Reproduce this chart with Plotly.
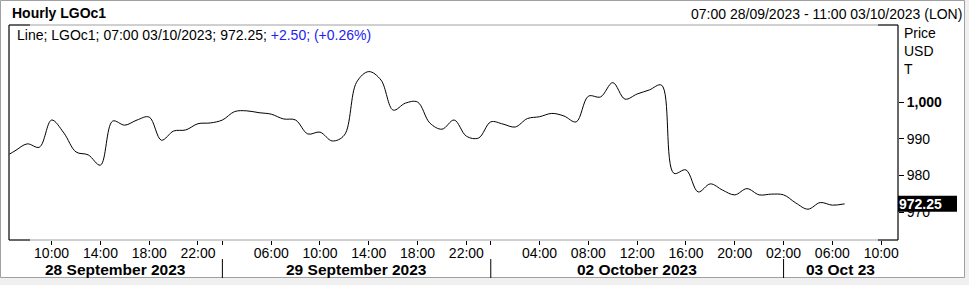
import plotly.graph_objects as go

# ---------------- data ----------------
day_names = ["28 September 2023", "29 September 2023", "02 October 2023", "03 Oct 23"]
sep28_hours = ["06:00", "07:00", "08:00", "09:00", "10:00", "11:00", "12:00", "13:00", "14:00",
               "15:00", "16:00", "17:00", "18:00", "19:00", "20:00", "21:00", "22:00", "23:00"]
sep29_hours = ["02:00", "03:00", "04:00", "05:00", "06:00", "07:00", "08:00", "09:00", "10:00",
               "11:00", "12:00", "13:00", "14:00", "15:00", "16:00", "17:00", "18:00", "19:00",
               "20:00", "21:00", "22:00", "23:00"]
oct02_hours = ["00:00", "01:00", "02:00", "03:00", "04:00", "05:00", "06:00", "07:00", "08:00",
               "09:00", "10:00", "11:00", "12:00", "13:00", "14:00", "15:00", "16:00", "17:00",
               "18:00", "19:00", "20:00", "21:00", "22:00", "23:00"]
oct03_hours = ["02:00", "03:00", "04:00", "05:00", "06:00", "07:00", "08:00", "09:00", "10:00", "11:00"]

prices = [
    # 28 Sep 06:00 - 23:00
    984.7, 986.7, 988.6, 987.7, 995.1, 991.6, 986.4, 985.6, 982.8, 994.8,
    993.7, 995.1, 995.9, 989.6, 992.1, 992.4, 994.1, 994.3,
    # 29 Sep 02:00 - 23:00
    995.1, 997.4, 997.6, 997.1, 996.7, 995.4, 995.1, 991.3, 991.8, 989.4,
    991.0, 1005.4, 1008.3, 1006.0, 997.8, 999.7, 1000.0, 994.3, 992.6, 995.1,
    990.7, 990.2,
    # 02 Oct 00:00 - 23:00
    994.6, 994.0, 993.2, 995.5, 996.0, 996.9, 996.2, 994.6, 1001.6, 1001.4,
    1005.3, 1000.8, 1002.2, 1003.3, 1004.6, 980.6, 981.5, 975.5, 977.7, 976.0,
    974.7, 976.4, 974.7, 974.9,
    # 03 Oct 02:00 - 07:00
    974.7, 972.5, 970.8, 972.6, 971.9, 972.25,
]

tick_hours = {
    0: ["10:00", "14:00", "18:00", "22:00"],
    1: ["02:00", "06:00", "10:00", "14:00", "18:00", "22:00"],
    2: ["00:00", "04:00", "08:00", "12:00", "16:00", "20:00"],
    3: ["02:00", "06:00", "10:00"],
}
hidden_ticks = [(1, "02:00"), (2, "00:00")]

y_tickvals = [970, 980, 990, 1000]
y_ticktext = ["970", "980", "990", "<b>1,000</b>"]

last_label = "972.25"
legend_text = ("Line; LGOc1; 07:00 03/10/2023; 972.25; "
               "<span style='color:#2323f0'>+2.50; (+0.26%)</span>")
title_text = "<b>Hourly LGOc1</b>"
range_text = "07:00 28/09/2023 - 11:00 03/10/2023 (LON)"

# ---------------- build slots ----------------
days_hours = [sep28_hours, sep29_hours, oct02_hours, oct03_hours]
slots = []
day_start = []
for d, hrs in enumerate(days_hours):
    day_start.append(len(slots))
    for h in hrs:
        slots.append((d, h))
x_idx = list(range(len(prices)))

tickvals, ticktext = [], []
for i, (d, h) in enumerate(slots):
    if h in tick_hours[d]:
        tickvals.append(i)
        ticktext.append("" if (d, h) in hidden_ticks else h)

# ---------------- layout geometry ----------------
W, H = 969, 285
ml, mr, mt, mb = 9, 71, 25, 45
pw, ph = W - ml - mr, H - mt - mb
xr = [0.508, 73.38]
yr = [962.4, 1021.0]


def px_x(px):
    return (px - ml) / pw


def px_y(py):
    return (H - mb - py) / ph


def yval_to_py(v):
    return mt + (yr[1] - v) / (yr[1] - yr[0]) * ph


FONT = "Arial, Liberation Sans, sans-serif"

fig = go.Figure()
fig.add_trace(go.Scatter(
    x=x_idx, y=prices, mode="lines",
    line=dict(color="black", width=1, shape="spline", smoothing=1.0),
    hoverinfo="skip", showlegend=False,
))

shapes = []
# outer frame
shapes.append(dict(type="rect", xref="paper", yref="paper",
                   x0=px_x(0), x1=px_x(W), y0=px_y(H), y1=px_y(277.5),
                   fillcolor="#f0f0f0", line=dict(width=0), layer="below"))
shapes.append(dict(type="rect", xref="paper", yref="paper",
                   x0=px_x(964.5), x1=px_x(W), y0=px_y(H), y1=px_y(0),
                   fillcolor="#f0f0f0", line=dict(width=0), layer="below"))
shapes.append(dict(type="rect", xref="paper", yref="paper",
                   x0=px_x(0.5), x1=px_x(964.5), y0=px_y(277.5), y1=px_y(0.5),
                   line=dict(color="#a0a0a0", width=1), fillcolor="rgba(0,0,0,0)", layer="above"))
# plot box (grey) with black sides/corners
shapes.append(dict(type="rect", xref="paper", yref="paper", x0=0, x1=1, y0=0, y1=1,
                   line=dict(color="#a0a0a0", width=1), layer="above"))
for x0, x1 in [(0, 0), (1, 1)]:
    shapes.append(dict(type="line", xref="paper", yref="paper", x0=x0, x1=x1, y0=0, y1=1,
                       line=dict(color="black", width=1), layer="above"))
for yy in [0, 1]:
    shapes.append(dict(type="line", xref="paper", yref="paper", x0=0, x1=px_x(30), y0=yy, y1=yy,
                       line=dict(color="black", width=1), layer="above"))
    shapes.append(dict(type="line", xref="paper", yref="paper", x0=px_x(878), x1=1, y0=yy, y1=yy,
                       line=dict(color="black", width=1), layer="above"))
# day separators
for d in range(1, len(days_hours)):
    shapes.append(dict(type="line", xref="x", yref="paper",
                       x0=day_start[d], x1=day_start[d], y0=px_y(259), y1=px_y(278),
                       line=dict(color="black", width=1)))
# last-price box (covers part of the 970 label, as in the reference)
py_last = yval_to_py(prices[-1])
shapes.append(dict(type="rect", xref="paper", yref="paper",
                   x0=1, x1=px_x(957), y0=px_y(py_last + 8), y1=px_y(py_last - 8),
                   fillcolor="black", line=dict(width=0), layer="above"))

annotations = []
# day labels centred between separators / edges
bounds = [xr[0]] + day_start[1:] + [xr[1]]
for d, name in enumerate(day_names):
    cx = (bounds[d] + bounds[d + 1]) / 2
    annotations.append(dict(x=cx, xref="x", y=px_y(269.5), yref="paper", text="<b>" + name + "</b>",
                            showarrow=False, xanchor="center", yanchor="middle",
                            font=dict(family=FONT, size=15.5, color="black")))
annotations.append(dict(x=px_x(10), xref="paper", y=px_y(13), yref="paper", text=title_text,
                        showarrow=False, xanchor="left", yanchor="middle",
                        font=dict(family=FONT, size=14, color="black")))
annotations.append(dict(x=px_x(964), xref="paper", y=px_y(14), yref="paper", text=range_text,
                        showarrow=False, xanchor="right", yanchor="middle",
                        font=dict(family=FONT, size=14, color="black")))
annotations.append(dict(x=px_x(15), xref="paper", y=px_y(35), yref="paper", text=legend_text,
                        showarrow=False, xanchor="left", yanchor="middle",
                        font=dict(family=FONT, size=14, color="black")))
for txt, py in [("Price", 33), ("USD", 51), ("T", 69)]:
    annotations.append(dict(x=px_x(902), xref="paper", y=px_y(py), yref="paper", text=txt,
                            showarrow=False, xanchor="left", yanchor="middle",
                            font=dict(family=FONT, size=14, color="black")))
annotations.append(dict(x=px_x(897), xref="paper", y=prices[-1], yref="y", text="<b>" + last_label + "</b>",
                        showarrow=False, xanchor="left", yanchor="middle", align="left",
                        font=dict(family=FONT, size=14, color="white")))

fig.update_layout(
    width=W, height=H,
    margin=dict(l=ml, r=mr, t=mt, b=mb, autoexpand=False),
    paper_bgcolor="white", plot_bgcolor="rgba(0,0,0,0)",
    shapes=shapes, annotations=annotations,
    xaxis=dict(range=xr, tickmode="array", tickvals=tickvals, ticktext=ticktext,
               ticks="outside", ticklen=4, tickcolor="black", tickwidth=1,
               ticklabelstandoff=-4,
               showgrid=False, zeroline=False, showline=False,
               tickfont=dict(family=FONT, size=14, color="black")),
    yaxis=dict(range=yr, side="right", tickmode="array", tickvals=y_tickvals, ticktext=y_ticktext,
               ticks="outside", ticklen=5, tickcolor="black", tickwidth=1,
               showgrid=False, zeroline=False, showline=False,
               tickfont=dict(family=FONT, size=14, color="black")),
)

fig.write_html("out.html")
